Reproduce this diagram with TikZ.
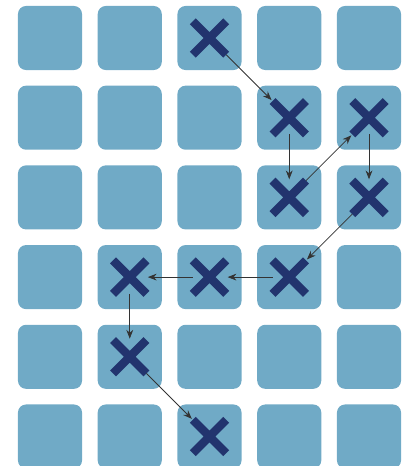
\documentclass[tikz,border=0pt]{standalone}
\usetikzlibrary{shapes.misc,arrows.meta}
\definecolor{cellblue}{HTML}{70AAC6}
\definecolor{crossblue}{HTML}{22346E}

\begin{document}
\begin{tikzpicture}[x=0.025cm,y=-0.025cm,
    cell/.style={fill=cellblue, rounded corners=0.2cm, minimum size=1.6cm, inner sep=0},
    cross/.style={cross out, draw=crossblue, line width=0.21cm, minimum size=0.8cm, inner sep=0, outer sep=0.5pt},
    hop/.style={-{Stealth[length=2.2mm,width=1.7mm]}, draw=black!80, line width=0.55pt, shorten >=1pt}]
        \useasboundingbox (0,0) rectangle (409,466);

        % Grid of cells
        \foreach \r in {1,...,6}
            \foreach \c in {1,...,5}
                \node[cell] (cell-\r-\c) at ({50+79.75*(\c-1)},{38+79.7*(\r-1)}) {};

        % Visited cells
        \foreach \r/\c in {1/3,2/4,3/4,2/5,3/5,4/4,4/3,4/2,5/2,6/3}
            \node[cross] (x\r\c) at (cell-\r-\c) {};

        % Path between them
        \foreach \a/\b in {13/24,24/34,34/25,25/35,35/44,44/43,43/42,42/52,52/63}
            \draw[hop] (x\a) -- (x\b);
    \end{tikzpicture}
\end{document}
